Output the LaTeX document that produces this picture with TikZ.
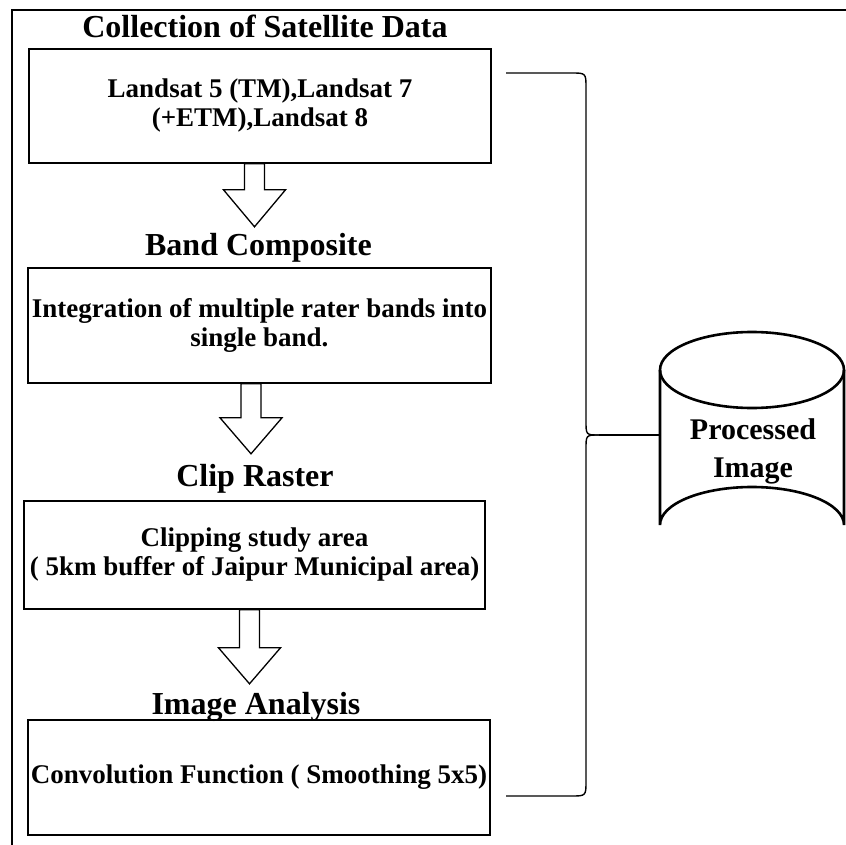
\documentclass[tikz,border=0pt]{standalone}
\usepackage{fontspec}
\setmainfont{Liberation Serif}
\begin{document}
\begin{tikzpicture}[x=1pt,y=-1pt,
  heading/.style={font=\fontsize{32}{38}\selectfont\bfseries, anchor=base, inner sep=0pt},
  stepbox/.style={draw, line width=1.6pt, minimum width=462pt, align=center,
    font=\fontsize{27}{29}\selectfont\bfseries, inner sep=0pt},
  blockarrow/.style={draw, line width=1.3pt, fill=white, line join=miter},
  frame/.style={line width=2.2pt},
  bracket/.style={line width=1.4pt},
  drum/.style={line width=2.6pt},
  pics/flowarrow/.style n args={2}{code={
    \draw[blockarrow] (-10,0) -- (-10,#1) -- (-31,#1) -- (0,#2) -- (31,#1) -- (10,#1) -- (10,0) -- cycle;}}
]
\useasboundingbox (0,0) rectangle (846,845);

% outer frame (left and top edges)
\draw[frame] (12,845) -- (12,10) -- (846,10);

% headings
\node[heading] (h1) at (265,38) {Collection of Satellite Data};
\node[heading] (h2) at (258.5,255) {Band Composite};
\node[heading] (h3) at (255,486) {Clip Raster};
\node[heading] (h4) at (256,714) {Image Analysis};

% process boxes
\node[stepbox, minimum height=114pt] (b1) at (260,106) {Landsat 5 (TM),Landsat 7\\(+ETM),Landsat 8};
\node[stepbox, minimum height=115pt, minimum width=463pt] (b2) at (259.5,325.5) {Integration of multiple rater bands into\\single band.};
\node[stepbox, minimum height=108pt, minimum width=461pt] (b3) at (254.5,555) {Clipping study area\\( 5km buffer of Jaipur Municipal area)};
\node[stepbox, minimum height=115pt] (b4) at (259,777.5) {Convolution Function ( Smoothing 5x5)};

% block arrows between the steps
\pic at ([xshift=-5.5pt]b1.south) {flowarrow={26}{63}};
\pic at ([xshift=-8.5pt]b2.south) {flowarrow={34}{70}};
\pic at ([xshift=-5pt]b3.south) {flowarrow={38}{74}};

% database cylinder
\draw[drum, fill=white] (660,370) -- (660,525)
  arc[start angle=180, end angle=360, x radius=92, y radius=38] -- (844,370);
\draw[drum] (752,370) ellipse [x radius=92, y radius=38];
\node[font=\fontsize{30}{38}\selectfont\bfseries, align=center, anchor=base] (db) at (753,477) {Processed\\Image};
\coordinate (dbside) at (660,435);

% curly bracket grouping all steps
\coordinate (top) at (506,73);
\coordinate (bot) at (506,796);
\coordinate (tip) at (599,435);
\draw[bracket] (top) -- (571,73) .. controls (586,73) .. (586,88) -- (586,421)
  .. controls (586,435) .. (tip);
\draw[bracket] (bot) -- (571,796) .. controls (586,796) .. (586,781) -- (586,449)
  .. controls (586,435) .. (tip);
\draw[bracket] (tip) -- (dbside);
\end{tikzpicture}
\end{document}
